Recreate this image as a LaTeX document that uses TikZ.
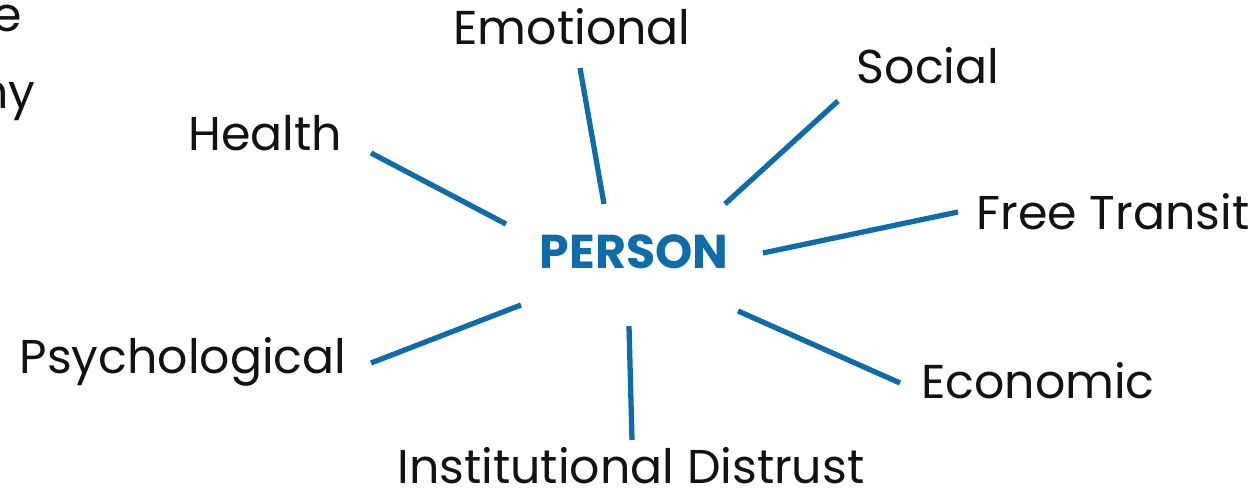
\documentclass[tikz,border=0pt]{standalone}
\usepackage{fontspec}
\setmainfont{Poppins}
\definecolor{personblue}{HTML}{0E6DA8}

\begin{document}
\begin{tikzpicture}[x=0.02cm,y=-0.02cm,
	spoke/.style={personblue,line width=3pt},
	lbl/.style={font=\fontsize{27}{30}\selectfont,text=black!93,inner sep=0pt}]
	\useasboundingbox (0,0) rectangle (1259,489);
	% cut-off text at the left edge
	\node[lbl,anchor=east] (cutA) at (22,19) {e};
	\node[lbl,anchor=east] (cutB) at (36,101) {ny};
	% centre
	\node[inner sep=0pt,text=personblue,font=\fontsize{27}{30}\selectfont\bfseries] (person) at (634,252) {PERSON};
	% labels
	\node[lbl] (emotional) at (572,27) {Emotional};
	\node[lbl] (social) at (928,66) {Social};
	\node[lbl] (health) at (265,133) {Health};
	\node[lbl] (transit) at (1113,212) {Free Transit};
	\node[lbl] (psych) at (183,362) {Psychological};
	\node[lbl] (econ) at (1038,381) {Economic};
	\node[lbl] (distrust) at (631,466) {Institutional Distrust};
	% spokes
	\coordinate (e1) at (604,204); \coordinate (e2) at (580,68);
	\coordinate (s1) at (725,204); \coordinate (s2) at (838,101);
	\coordinate (h1) at (506,224); \coordinate (h2) at (371,153);
	\coordinate (t1) at (763,253); \coordinate (t2) at (958,212);
	\coordinate (c1) at (738,311); \coordinate (c2) at (900,383);
	\coordinate (d1) at (629,326); \coordinate (d2) at (632,440);
	\coordinate (p1) at (521,305); \coordinate (p2) at (371,363);
	\draw[spoke] (e1) -- (e2);
	\draw[spoke] (s1) -- (s2);
	\draw[spoke] (h1) -- (h2);
	\draw[spoke] (t1) -- (t2);
	\draw[spoke] (c1) -- (c2);
	\draw[spoke] (d1) -- (d2);
	\draw[spoke] (p1) -- (p2);
\end{tikzpicture}
\end{document}
